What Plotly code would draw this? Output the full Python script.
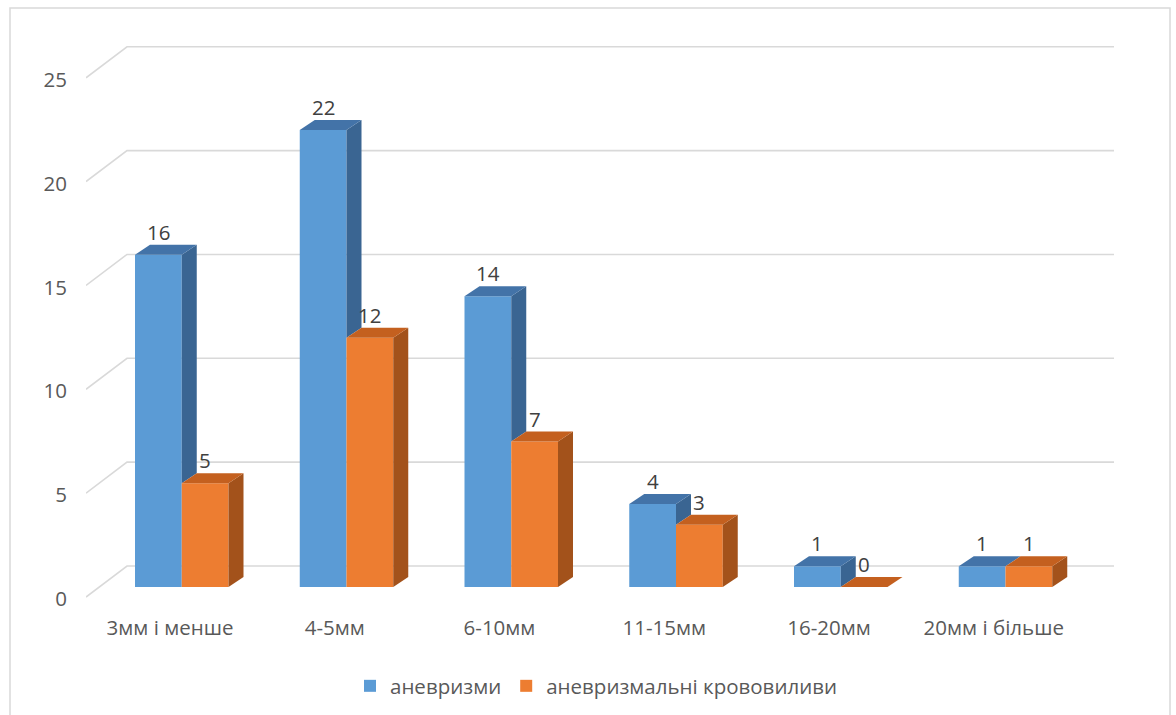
import plotly.graph_objects as go

# ---- data -------------------------------------------------------------
categories = ["3мм і менше", "4-5мм", "6-10мм", "11-15мм", "16-20мм", "20мм і більше"]
aneurysms = [16, 22, 14, 4, 1, 1]
hemorrhages = [5, 12, 7, 3, 0, 1]
series_names = ["аневризми", "аневризмальні крововиливи"]
y_ticks = [0, 5, 10, 15, 20, 25]

# ---- geometry of the pseudo-3D box (pixels) ---------------------------
W, H = 1176, 715
L, R, T, B = 86, 1114, 30, 610          # plot area
X0 = 181.75                             # centre of the first bar pair (front plane)
SP = 164.75                             # pixels per category
BASE = 587                              # value 0 on the bar front plane
UNIT = 20.77                            # pixels per value unit
BW_PX = 46.75                           # bar front width
BAR_DX, BAR_DY = 15, 10                 # oblique depth of each bar
WALL_DY = 21                            # back wall sits this far above the front plane
FLOOR_DY = -10                          # front floor edge
WALL_X0, FLOOR_X0 = 127, 86
LABEL_BASE = 599                        # value 0 for the value-axis labels
CAT_SHIFT = -11.75                      # category labels sit on the front floor edge

BLUE, BLUE_TOP, BLUE_SIDE = "#5B9BD5", "#4373A8", "#3A6592"
ORANGE, ORANGE_TOP, ORANGE_SIDE = "#ED7D31", "#C4601F", "#A3521B"
GRID = "#D9D9D9"
TEXT = "#595959"
FONT = "Open Sans, Noto Sans, sans-serif"
FS = 20.5


def px_to_x(px):
    return (px - X0) / SP


def py_to_v(py):
    return (BASE - py) / UNIT


bw = BW_PX / SP
ddx, ddy = BAR_DX / SP, BAR_DY / UNIT
xpos = list(range(len(categories)))

fig = go.Figure()

# front faces
for name, vals, color, off in [(series_names[0], aneurysms, BLUE, -bw),
                               (series_names[1], hemorrhages, ORANGE, 0.0)]:
    fig.add_trace(go.Bar(
        x=xpos, y=vals, width=bw, offset=off, name=name,
        marker=dict(color=color, line=dict(width=0)),
        hoverinfo="y+name",
    ))


def add_face(xs, ys, color):
    fig.add_trace(go.Scatter(
        x=xs, y=ys, mode="lines", fill="toself", fillcolor=color,
        line=dict(width=0, color=color), showlegend=False, hoverinfo="skip",
    ))


# side and top faces; the blue side is hidden below the orange bar's top
for i, (a, h) in enumerate(zip(aneurysms, hemorrhages)):
    for xl, v, hidden, top_c, side_c in [(i - bw, a, min(a, h), BLUE_TOP, BLUE_SIDE),
                                          (i, h, 0, ORANGE_TOP, ORANGE_SIDE)]:
        xr = xl + bw
        if v > hidden:
            add_face([xr, xr + ddx, xr + ddx, xr, xr],
                     [v, v + ddy, hidden + ddy, hidden, v], side_c)
        add_face([xl, xl + ddx, xr + ddx, xr, xl],
                 [v, v + ddy, v + ddy, v, v], top_c)

# value labels
annotations = []
for i, (a, h) in enumerate(zip(aneurysms, hemorrhages)):
    for xc, v in [(i - bw / 2, a), (i + bw / 2, h)]:
        annotations.append(dict(
            x=xc, y=v, xref="x", yref="y", text=str(v), showarrow=False,
            yshift=23, font=dict(family=FONT, size=FS, color="#404040"),
        ))

# gridlines: front floor edge -> back wall -> right end
shapes = []
for t in y_ticks:
    xf, yf = px_to_x(FLOOR_X0), t + FLOOR_DY / UNIT
    xw, yw = px_to_x(WALL_X0), t + WALL_DY / UNIT
    xe = px_to_x(R)
    shapes.append(dict(
        type="path", xref="x", yref="y", layer="below",
        path=f"M {xf},{yf} L {xw},{yw} L {xe},{yw}",
        line=dict(color=GRID, width=1.6),
    ))

# outer chart border
shapes.append(dict(
    type="rect", xref="paper", yref="paper", layer="below",
    x0=(10 - L) / (R - L), x1=(1170 - L) / (R - L),
    y0=(B - 730) / (B - T), y1=(B - 8) / (B - T),
    line=dict(color=GRID, width=1.5), fillcolor="rgba(0,0,0,0)",
))

fig.update_layout(
    width=W, height=H,
    margin=dict(l=L, r=W - R, t=T, b=H - B, pad=0),
    paper_bgcolor="white", plot_bgcolor="white",
    barmode="overlay",
    font=dict(family=FONT, size=FS, color=TEXT),
    xaxis=dict(
        range=[px_to_x(L), px_to_x(R)],
        tickmode="array",
        tickvals=[x + CAT_SHIFT / SP for x in xpos],
        ticktext=categories,
        showgrid=False, zeroline=False, showline=False, ticks="",
        ticklabelstandoff=3,
        tickfont=dict(family=FONT, size=FS, color=TEXT),
    ),
    yaxis=dict(
        range=[py_to_v(B), py_to_v(T)],
        showgrid=False, zeroline=False, showline=False,
        showticklabels=False, ticks="",
    ),
    yaxis2=dict(
        overlaying="y", side="left",
        range=[(LABEL_BASE - B) / UNIT, (LABEL_BASE - T) / UNIT],
        tickmode="array", tickvals=y_ticks,
        showgrid=False, zeroline=False, showline=False, ticks="",
        ticklabelstandoff=18,
        tickfont=dict(family=FONT, size=FS, color=TEXT),
    ),
    legend=dict(
        orientation="h", xref="container", yref="container",
        x=596 / W, xanchor="center", y=1 - 686 / H, yanchor="middle",
        font=dict(family=FONT, size=FS, color=TEXT),
        itemwidth=30,
    ),
    annotations=annotations,
    shapes=shapes,
    showlegend=True,
)

# keep the label axis alive with an invisible anchor trace
fig.add_trace(go.Scatter(x=[px_to_x(L)], y=[0], yaxis="y2", mode="markers",
                         marker=dict(opacity=0), showlegend=False, hoverinfo="skip"))

fig.write_html("out.html")
